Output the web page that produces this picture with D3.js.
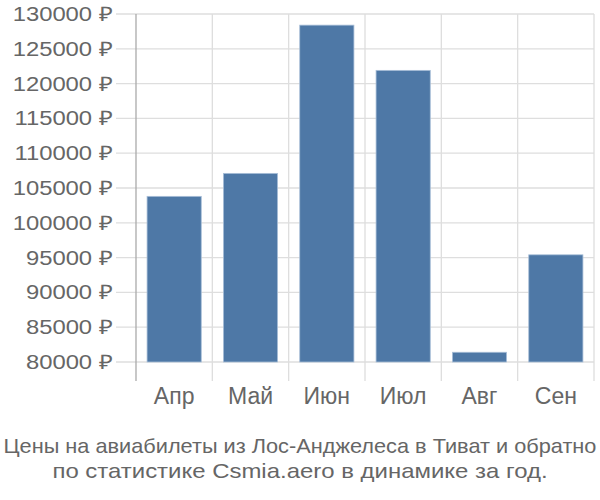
<!DOCTYPE html>
<html><head><meta charset="utf-8">
<script src="https://cdn.jsdelivr.net/npm/d3@7"></script>
<style>
html,body{margin:0;padding:0;background:#fff;}
text{font-family:"Liberation Sans",Arial,sans-serif;fill:#666;}
</style></head>
<body>
<svg id="chart" width="600" height="500"></svg>
<script>
const months = ["Апр","Май","Июн","Июл","Авг","Сен"];
const prices = [103800, 107100, 128400, 121900, 81400, 95400];
const yTicks = [80000,85000,90000,95000,100000,105000,110000,115000,120000,125000,130000];
const titleLines = ["Цены на авиабилеты из Лос-Анджелеса в Тиват и обратно","по статистике Csmia.aero в динамике за год."];

(function(){
const svg = d3.select("#chart");
const pL = 136, pR = 594, pT = 14, pB = 362, tickBottom = 381;
const x = d3.scaleBand().domain(months).range([pL, pR]).paddingInner(0.29).paddingOuter(0.145);
const y = d3.scaleLinear().domain([80000,130000]).range([pB, pT]);
const bandStep = (pR-pL)/months.length;

function stretch(sel, factorFn){
  sel.each(function(d,i){
    const w = this.getComputedTextLength();
    d3.select(this).attr("textLength", w*factorFn(i)).attr("lengthAdjust","spacingAndGlyphs");
  });
}

// horizontal grid
svg.append("g").selectAll("line").data(yTicks).join("line")
  .attr("x1", 116).attr("x2", pR)
  .attr("y1", d=>y(d)).attr("y2", d=>y(d))
  .attr("stroke", "#dedede").attr("stroke-width", 1.3);
// vertical grid
const vx = d3.range(months.length+1).map(i => pL + i*bandStep);
svg.append("g").selectAll("line").data(vx.slice(1)).join("line")
  .attr("x1", d=>d).attr("x2", d=>d).attr("y1", pT).attr("y2", tickBottom)
  .attr("stroke", "#dedede").attr("stroke-width", 1.3);
// left axis
svg.append("line").attr("x1", pL).attr("x2", pL).attr("y1", pT).attr("y2", tickBottom)
  .attr("stroke", "#aaa").attr("stroke-width", 1.3);

// bars
svg.append("g").selectAll("rect").data(prices).join("rect")
  .attr("x", (d,i)=>x(months[i]))
  .attr("width", x.bandwidth())
  .attr("y", d=>y(d))
  .attr("height", d=>y(80000)-y(d))
  .attr("fill", "#4e78a6").attr("stroke", "#a9bfd8").attr("stroke-width", 0.8);

// y labels
const yl = svg.append("g").selectAll("text").data(yTicks).join("text")
  .attr("x", 113).attr("y", d=>y(d)).attr("dy", "0.35em")
  .attr("text-anchor", "end").style("font-size", "20px")
  .text(d=>d+" ₽");
stretch(yl, ()=>1.19);
// x labels
svg.append("g").selectAll("text").data(months).join("text")
  .attr("x", d=>x(d)+x.bandwidth()/2).attr("y", 404)
  .attr("text-anchor", "middle").style("font-size", "23px")
  .text(d=>d);
// title
const tl = svg.append("g").selectAll("text").data(titleLines).join("text")
  .attr("x", 300).attr("y", (d,i)=>453+i*25)
  .attr("text-anchor", "middle").style("font-size", "21px")
  .text(d=>d);
stretch(tl, i => i === 0 ? 1.035 : 1.14);
})();
</script>
</body></html>
